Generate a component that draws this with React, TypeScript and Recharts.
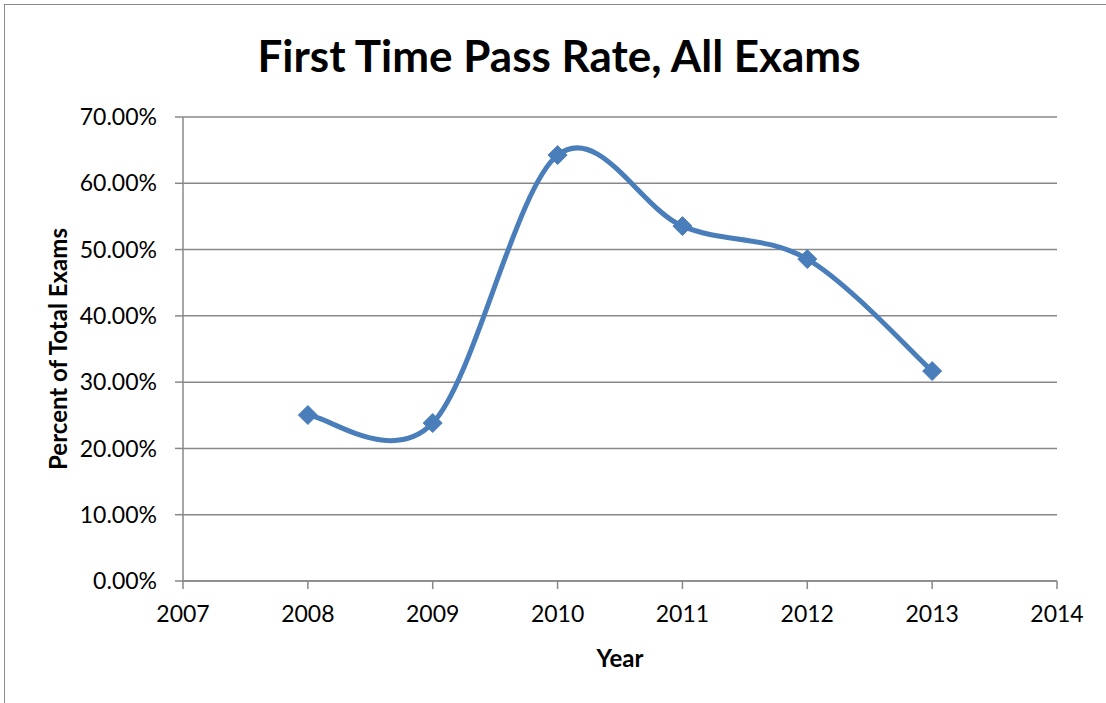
import { CartesianGrid, Line, LineChart, XAxis, YAxis } from "recharts";

const years = [2008, 2009, 2010, 2011, 2012, 2013];
const passRate = [0.2504, 0.2383, 0.6425, 0.5354, 0.4857, 0.3167];
const yearTicks = [2007, 2008, 2009, 2010, 2011, 2012, 2013, 2014];
const rateTicks = [0, 0.1, 0.2, 0.3, 0.4, 0.5, 0.6, 0.7];

const data = years.map((year, i) => ({ year, rate: passRate[i] }));

const BLUE = "#4A7EBB";
const GRID = "#888888";
const FONT = "Lato, 'Open Sans', sans-serif";

// Excel-style smoothed line (Catmull-Rom through every point)
function excelSmooth(context: any) {
  let pts: number[][] = [];
  return {
    areaStart() {},
    areaEnd() {},
    lineStart() {
      pts = [];
    },
    point(x: number, y: number) {
      pts.push([+x, +y]);
    },
    lineEnd() {
      const n = pts.length;
      if (!n) return;
      context.moveTo(pts[0][0], pts[0][1]);
      for (let i = 0; i < n - 1; i++) {
        const p0 = pts[i - 1] || pts[i];
        const p1 = pts[i];
        const p2 = pts[i + 1];
        const p3 = pts[i + 2] || p2;
        context.bezierCurveTo(
          p1[0] + (p2[0] - p0[0]) / 6,
          p1[1] + (p2[1] - p0[1]) / 6,
          p2[0] - (p3[0] - p1[0]) / 6,
          p2[1] - (p3[1] - p1[1]) / 6,
          p2[0],
          p2[1]
        );
      }
    },
  };
}

function Diamond(props: any) {
  const { cx, cy, index } = props;
  if (cx == null || cy == null) return null;
  const r = 9.5;
  return (
    <path
      key={`d-${index}`}
      d={`M${cx},${cy - r}L${cx + r},${cy}L${cx},${cy + r}L${cx - r},${cy}Z`}
      fill={BLUE}
      stroke={BLUE}
      strokeWidth={1}
    />
  );
}

export default function App() {
  return (
    <div
      style={{
        position: "fixed",
        top: 0,
        left: 0,
        width: 1106,
        height: 703,
        overflow: "hidden",
        background: "#fff",
        fontFamily: FONT,
      }}
    >
      <div
        style={{
          position: "absolute",
          left: 4,
          top: 4,
          width: 1300,
          height: 900,
          border: "1.5px solid #8a8a8a",
        }}
      />
      <div
        style={{
          position: "absolute",
          left: 12,
          width: 1094,
          top: 33,
          textAlign: "center",
          fontSize: 44,
          lineHeight: "44px",
          fontWeight: 700,
          color: "#000",
        }}
      >
        First Time Pass Rate, All Exams
      </div>
      <div
        style={{
          position: "absolute",
          left: 57,
          top: 349,
          transform: "translate(-50%, -50%) rotate(-90deg)",
          whiteSpace: "nowrap",
          fontSize: 24,
          fontWeight: 700,
          color: "#000",
        }}
      >
        Percent of Total Exams
      </div>
      <div
        style={{
          position: "absolute",
          left: 620,
          top: 657,
          transform: "translate(-50%, -50%)",
          fontSize: 24,
          fontWeight: 700,
          color: "#000",
        }}
      >
        Year
      </div>
      <div style={{ position: "absolute", left: 0, top: 0 }}>
        <LineChart
          width={1106}
          height={703}
          data={data}
          margin={{ top: 117, right: 49, bottom: 0, left: 0 }}
        >
          <CartesianGrid vertical={false} stroke={GRID} strokeWidth={1.5} />
          <XAxis
            dataKey="year"
            type="number"
            domain={[2007, 2014]}
            ticks={yearTicks}
            height={122}
            stroke={GRID}
            strokeWidth={1.5}
            tickSize={8}
            tickMargin={17}
            tick={{ fill: "#000", fontSize: 23, fontFamily: FONT }}
          />
          <YAxis
            type="number"
            domain={[0, 0.7]}
            ticks={rateTicks}
            width={183}
            stroke={GRID}
            strokeWidth={1.5}
            tickSize={8}
            tickMargin={18}
            tickFormatter={(v: number) => `${(v * 100).toFixed(2)}%`}
            tick={{ fill: "#000", fontSize: 23, fontFamily: FONT }}
          />
          <Line
            dataKey="rate"
            type={excelSmooth as any}
            stroke={BLUE}
            strokeWidth={5}
            dot={Diamond}
            activeDot={false}
            isAnimationActive={false}
          />
        </LineChart>
      </div>
    </div>
  );
}
